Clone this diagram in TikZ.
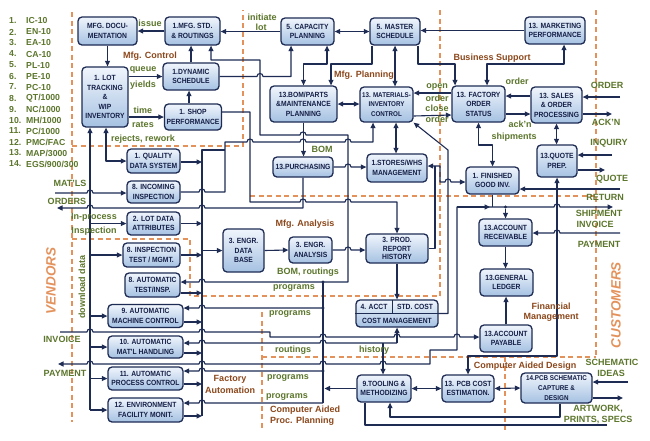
\documentclass[tikz,border=0pt]{standalone}
\usepackage{fontspec}
\setmainfont{Liberation Sans}
\newfontfamily\bxfont[FakeStretch=0.9]{Liberation Sans}
\usetikzlibrary{arrows.meta}
\definecolor{lnc}{RGB}{30,44,84}
\definecolor{boxtop}{RGB}{240,245,252}
\definecolor{boxbot}{RGB}{165,193,226}
\definecolor{boxtxt}{RGB}{20,30,70}
\definecolor{grn}{RGB}{92,118,44}
\definecolor{brn}{RGB}{140,72,28}
\definecolor{orn}{RGB}{228,146,92}
\newcommand\hR[2]{-- ({#1-3},#2) .. controls ({#1-3},{#2-4}) and ({#1+3},{#2-4}) .. ({#1+3},#2)}
\newcommand\hL[2]{-- ({#1+3},#2) .. controls ({#1+3},{#2-4}) and ({#1-3},{#2-4}) .. ({#1-3},#2)}
\tikzset{
 bx/.style={draw=lnc, line width=1.3pt, rounded corners=4pt, top color=boxtop, bottom color=boxbot, inner sep=0pt, align=center, text=boxtxt, font=\bxfont\bfseries\fontsize{7.5}{9.5}\selectfont},
 sz/.style 2 args={minimum width=#1pt, minimum height=#2pt},
 conn/.style={draw=lnc, line width=1.1pt, line join=round},
 arr/.style={conn, -{Triangle[length=5.5pt,width=5pt]}},
 arrb/.style={conn, {Triangle[length=5.5pt,width=5pt]}-{Triangle[length=5.5pt,width=5pt]}},
 glab/.style={text=grn, inner sep=0pt, font=\bfseries\fontsize{9}{10}\selectfont},
 blab/.style={text=brn, inner sep=0pt, font=\bfseries\fontsize{9}{10}\selectfont},
 lst/.style={text=grn, inner sep=0pt, anchor=west, font=\bfseries\fontsize{8.7}{10}\selectfont},
 dsh/.style={draw=orn, line width=1.3pt, dash pattern=on 5pt off 3.5pt},
 jd/.style={fill=lnc, circle, inner sep=0pt, minimum size=3.2pt},
 bigl/.style={text=orn, inner sep=0pt, rotate=90, font=\bfseries\itshape\fontsize{13.5}{14}\selectfont},
}
\begin{document}
\begin{tikzpicture}[x=1pt,y=-1pt]
\fill[white] (0,0) rectangle (650,440);
\useasboundingbox (0,0) rectangle (650,440);
% region borders
\draw[dsh] (72,12) -- (72,422);
\draw[dsh] (72,146) -- (243,146) -- (243,10);
\draw[dsh] (440,10) -- (440,296);
\draw[dsh] (596,10) -- (596,357);
\draw[dsh] (250,196) -- (596,196);
\draw[dsh] (72,239) -- (190,239) -- (190,296) -- (440,296);
\draw[dsh] (262,357) -- (596,357);
\draw[dsh] (262,312) -- (262,430);
\draw[dsh] (505,357) -- (505,430);
% list
\foreach \t [count=\i] in {IC-10,EN-10,EA-10,CA-10,PL-10,PE-10,PC-10,QT/1000,NC/1000,MH/1000,PC/1000,PMC/FAC,MAP/3000,EGS/900/300} {
  \node[lst] (ln\i) at (9,{10+11*\i}) {\i.};
  \node[lst] (lt\i) at (26,{10+11*\i}) {\t};
}
\node[bigl] (vend) at (51,281) {VENDORS};
\node[bigl] (cust) at (616,305) {CUSTOMERS};
% boxes
\node[bx, sz={59}{28}] (mfgdoc) at (107.5,31) {MFG. DOCU-\\MENTATION};
\node[bx, sz={55}{28}] (mfgstd) at (192.5,31) {1.MFG. STD.\\\& ROUTINGS};
\node[bx, sz={53}{27}] (cap) at (307.5,31.5) {5. CAPACITY\\PLANNING};
\node[bx, sz={50}{27}] (master) at (395,31.5) {5. MASTER\\SCHEDULE};
\node[bx, sz={60}{27}] (mkt) at (555,30.5) {13. MARKETING\\PERFORMANCE};
\node[bx, sz={46}{60}] (lot) at (105,97) {1. LOT\\TRACKING\\\&\\WIP\\INVENTORY};
\node[bx, sz={56}{27}] (dyn) at (191,76.5) {1.DYNAMIC\\SCHEDULE};
\node[bx, sz={57}{26}] (shop) at (193,117) {1. SHOP\\PERFORMANCE};
\node[bx, sz={67}{36}] (bom) at (303.5,104) {13.BOM/PARTS\\\&MAINTENANCE\\PLANNING};
\node[bx, sz={53}{35}, font=\bxfont\bfseries\fontsize{6.9}{9.5}\selectfont] (mat) at (386.5,104.5) {13. MATERIALS-\\INVENTORY\\CONTROL};
\node[bx, sz={53}{36}] (fos) at (478.5,104) {13. FACTORY\\ORDER\\STATUS};
\node[bx, sz={51}{36}] (sales) at (556.5,105) {13. SALES\\\& ORDER\\PROCESSING};
\node[bx, sz={40}{32}] (quote) at (557,161) {13.QUOTE\\PREP.};
\node[bx, sz={53}{24}] (qds) at (153.5,161) {1. QUALITY\\DATA SYSTEM};
\node[bx, sz={53}{22}] (inc) at (153.5,192) {8. INCOMING\\INSPECTION};
\node[bx, sz={53}{23}] (ldata) at (153.5,223.5) {2. LOT DATA\\ATTRIBUTES};
\node[bx, sz={57}{24}] (itest) at (151.5,255) {8. INSPECTION\\TEST / MGMT.};
\node[bx, sz={55}{24}] (atest) at (152.5,285) {8. AUTOMATIC\\TEST/INSP.};
\node[bx, sz={75}{23}] (mach) at (145.5,316) {9. AUTOMATIC\\MACHINE CONTROL};
\node[bx, sz={75}{22}] (matl) at (145.5,347) {10. AUTOMATIC\\MAT'L HANDLING};
\node[bx, sz={75}{23}] (proc) at (145.5,378.5) {11. AUTOMATIC\\PROCESS CONTROL};
\node[bx, sz={75}{24}] (env) at (145.5,410) {12. ENVIRONMENT\\FACILITY MONIT.};
\node[bx, sz={60}{20}] (purch) at (303,167) {13.PURCHASING};
\node[bx, sz={60}{28}] (stores) at (397,168) {1.STORES/WHS\\MANAGEMENT};
\node[bx, sz={53}{27}] (fg) at (492.5,180.5) {1. FINISHED\\GOOD INV.};
\node[bx, sz={41}{43}] (edb) at (243.5,250.5) {3. ENGR.\\DATA\\BASE};
\node[bx, sz={43}{26}] (ean) at (310.5,250) {3. ENGR.\\ANALYSIS};
\node[bx, sz={62}{29}, font=\bxfont\bfseries\fontsize{7.5}{8.5}\selectfont] (prod) at (397,248.5) {3. PROD.\\REPORT\\HISTORY};
\node[bx, sz={82}{27}] (acct) at (397,313.5) {};
\node[bx, sz={53}{27}] (ar) at (505.5,232.5) {13.ACCOUNT\\RECEIVABLE};
\node[bx, sz={53}{27}] (gl) at (506.5,282.5) {13.GENERAL\\LEDGER};
\node[bx, sz={52}{27}] (ap) at (506,338.5) {13.ACCOUNT\\PAYABLE};
\node[bx, sz={54}{27}] (tool) at (384,388.5) {9.TOOLING \&\\METHODIZING};
\node[bx, sz={52}{27}] (pcbc) at (468,388.5) {13. PCB COST\\ESTIMATION.};
\node[bx, sz={71}{30}, font=\bxfont\bfseries\fontsize{7}{9.8}\selectfont] (pcbs) at (556.5,388) {14.PCB SCHEMATIC\\CAPTURE \&\\DESIGN};
% 4. ACCT inner parts
\draw[conn, line width=.9pt] (acct.west |- 0,313.5) -- (acct.east |- 0,313.5);
\draw[conn, line width=.9pt] (392,300) -- (392,313.5);
\node[text=boxtxt, inner sep=0pt, font=\bxfont\bfseries\fontsize{7.5}{9}\selectfont] (acctA) at (374,307) {4. ACCT};
\node[text=boxtxt, inner sep=0pt, font=\bxfont\bfseries\fontsize{7.5}{9}\selectfont] (acctB) at (415,307) {STD. COST};
\node[text=boxtxt, inner sep=0pt, font=\bxfont\bfseries\fontsize{7.5}{9}\selectfont] (acctC) at (397,320.5) {COST MANAGEMENT};
% connectors: top
\draw[arr] (mfgstd.west) -- (mfgdoc.east);
\draw[arr] (mfgdoc.south) -- (mfgdoc.south |- lot.north);
\draw[arr] (cap.west) -- (cap.west -| mfgstd.east);
\draw[arrb] (cap.east) -- (master.west);
\draw[arr] (mkt.west) -- (mkt.west -| master.east);
\draw[arr] (lot.east |- dyn.west) -- (dyn.west);
\draw[arr] (lot.east |- shop.west) -- (shop.west);
\draw[arr] ([xshift=-4pt]shop.north) -- ([xshift=-4pt]shop.north |- dyn.south);
\draw[arr] (dyn.north) -- (dyn.north |- mfgstd.south);
\draw[arr] (323,282) -- (348,282) -- (348,135) \hL{303}{135} -- (260,135) -- (260,60) -- (211,60) -- ([xshift=18.5pt]mfgstd.south);
\draw[arr] (dyn.east) \hR{260}{76.5} -- (291,76.5) -- ([xshift=-16.5pt]cap.south);
\draw[arrb] ([xshift=19.5pt]cap.south) -- (327,64) -- (303.5,64) -- (bom.north);
\draw[arr] ([xshift=-23pt]master.south) -- (372,64) -- (331,64) -- ([xshift=27.5pt]bom.north);
\draw[arrb] (bom.east) -- (bom.east -| mat.west);
\draw[arrb] (master.south) -- (master.south |- mat.north);
\draw[arr] ([xshift=23pt]master.south) -- (418,64) -- (455,64) -- ([xshift=-23.5pt]fos.north);
\draw[arrb] ([xshift=9pt]mkt.south) -- (564,64) -- (487,64) -- ([xshift=8.5pt]fos.north);
\draw[arr] ([yshift=9pt]sales.west) -- ([yshift=8pt]fos.east);
\draw[arr] ([yshift=-10pt]fos.east) -- ([yshift=-9pt]sales.west);
\draw[arr] ([yshift=11pt]fos.west) -- ([yshift=11.5pt]mat.east);
\draw[arr] ([yshift=-11.5pt]mat.east) -- ([yshift=-11pt]fos.west);
\draw[arrb] (sales.south) -- (sales.south |- quote.north);
\draw[arr] (620,97) -- ([yshift=8pt]sales.east);
\draw[arr] ([yshift=-9pt]sales.east) -- (612,114);
\draw[arr] (612,155) -- ([yshift=6pt]quote.east);
\draw[arr] ([yshift=-9pt]quote.east) -- (605,170);
\draw[arr] (620,189) -- ([yshift=-8.5pt]fg.east);
\draw[arr] (620,233) \hL{557}{233} -- (ar.east |- 0,233);
\draw[arrb] (58,364) \hR{90}{364} \hR{202}{364} \hR{323}{364} \hR{383}{364} -- (430,364) -- (430,350) -- (457,350) -- (457,207) \hR{557}{207} -- (613,207);
\draw[arr] (457,207) -- (490,207);
\draw[conn] (fg.south) -- (fg.south |- 0,207);
\node[jd] (j1) at (505.5,207) {};
\draw[arr] (j1) -- (ar.north);
\draw[arrb] (fg.north) -- (492.5,145) -- (478.5,145) -- (fos.south);
\draw[arrb] ([yshift=2pt]stores.east) -- (440,166) -- (440,182) \hR{448}{182} -- ([yshift=-1.5pt]fg.west);
\draw[conn] (prod.east) -- (435,248.5) -- (435,166);
\draw[arrb] ([xshift=-1pt]stores.north) -- ([xshift=-1pt]stores.north |- mat.south);
\draw[arr] (purch.east) \hR{348}{167} -- (stores.west |- purch.east);
\draw[arr] (bom.south) -- (bom.south |- purch.north);
\draw[arr] (purch.south) -- (303,208) \hL{202}{208} \hL{90}{208} -- (57,208);
\draw[arr] (inc.east) \hR{202}{192} -- (225,192) -- (225,142) \hR{250}{142} \hR{303}{142} \hR{348}{142} -- (373,142) -- ([xshift=-13.5pt]mat.south);
\draw[arr] (55,193) \hR{90}{193} -- (inc.west |- 0,193);
% left buses
\draw[arr] (90,410) -- ([xshift=-15pt]lot.south);
\draw[arr] (90,410) -- (env.west);
\draw[arr] (90,223.5) -- (ldata.west);
\draw[arr] (90,255) -- (itest.west);
\draw[arr] (90,316) -- (mach.west);
\draw[arr] (90,347) -- (matl.west);
\draw[arr] (90,378.5) -- (proc.west);
\draw[arrb] ([xshift=1pt]lot.south) -- (106,161) -- (qds.west);
\draw[conn] (202,416) -- (202,150) -- (225,150);
\draw[arr] (qds.east |- 0,162) -- (202,162);
\draw[arr] (ldata.east) -- (202,223.5);
\draw[arr] (itest.east) -- (202,255);
\draw[arr] (atest.east |- 0,293) -- (202,293);
\draw[arr] (mach.east |- 0,322) -- (202,322);
\draw[arr] (matl.east |- 0,353) -- (202,353);
\draw[arr] (proc.east |- 0,384) -- (202,384);
\draw[arr] (env.east |- 0,416) -- (202,416);
\draw[arr] (202,250.5) -- (edb.west);
\draw[arr] (edb.east) -- (ean.west);
\draw[arr] (ean.east) \hR{348}{250} -- (prod.west |- ean.east);
\draw[arr] ([yshift=5pt]shop.east) -- (250,112) -- (250,202) \hR{303}{202} \hR{348}{202} -- (397,202) -- (prod.north);
% programs
\draw[conn] (323,282) -- (323,403);
\draw[arr] (323,282) \hL{202}{282} -- (atest.east |- 0,282);
\draw[arr] (323,308) \hL{202}{308} -- (mach.east |- 0,308);
\draw[arr] (323,371) \hL{202}{371} -- (proc.east |- 0,371);
\draw[arr] (323,403) \hL{202}{403} -- (env.east |- 0,403);
\node[jd] (j2) at (323,282) {};
\node[jd] (j3) at (323,308) {};
\node[jd] (j4) at (323,371) {};
\draw[arr] (tool.west) -- (324.5,388.5);
\draw[arr] (prod.south) -- (acct.north);
\draw[arr] (397,343) -- (acct.south);
\draw[arr] (397,343) \hL{323}{343} \hL{202}{343} -- (matl.east |- 0,343);
\draw[arr] (383,343) -- ([xshift=-1pt]tool.north);
\draw[arr] (60,332) \hR{90}{332} \hR{202}{332} -- (270,332) -- (270,337) \hR{323}{337} \hR{397}{337} \hR{457}{337} -- (ap.west |- 0,337);
\draw[arr] (acct.east) -- (448,313.5) -- (448,150) -- (mat.south east);
\draw[arr] (ar.south) -- (ar.south |- gl.north);
\draw[arr] (ap.north) -- (ap.north |- gl.south);
\draw[arrb] (quote.south) -- (557,356) -- (468,356) -- (pcbc.north);
\draw[arrb] (tool.east) -- (pcbc.west);
\draw[arrb] (pcbc.east) -- (pcbs.west);
\draw[arr] (628,382) -- ([yshift=6pt]pcbs.east);
\draw[arr] ([yshift=-10pt]pcbs.east) -- (623,398);
\draw[arr] ([xshift=3.5pt]pcbs.south) -- (560,417) -- (390,417) -- ([xshift=6pt]tool.south);
\draw[conn] ([xshift=-19pt]tool.south) -- (365,425) -- (607,425);
% green labels
\node[glab] (l1) at (150,23) {issue};
\node[glab] (l2) at (262,17) {initiate};
\node[glab] (l3) at (261,27) {lot};
\node[glab] (l4) at (143,70) {queue};
\node[glab] (l5) at (143,85) {yields};
\node[glab] (l6) at (143,110) {time};
\node[glab] (l7) at (143,125) {rates};
\node[glab] (l8) at (143,139) {rejects, rework};
\node[glab] (l9) at (322,149) {BOM};
\node[glab] (l10) at (437,87) {open};
\node[glab] (l11) at (437,98) {order};
\node[glab] (l12) at (437,108) {close};
\node[glab] (l13) at (437,119) {order};
\node[glab] (l14) at (517,81) {order};
\node[glab] (l15) at (520,124) {ack'n};
\node[glab] (l16) at (514,137) {shipments};
\node[glab] (l17) at (70,183) {MAT'LS};
\node[glab] (l18) at (67,201) {ORDERS};
\node[glab] (l19) at (94,217) {In-process};
\node[glab] (l20) at (94,231) {Inspection};
\node[glab, rotate=90] (l21) at (82,287) {download data};
\node[glab] (l22) at (308,272) {BOM, routings};
\node[glab] (l23) at (294,288) {programs};
\node[glab] (l24) at (290,314) {programs};
\node[glab] (l25) at (293,350) {routings};
\node[glab] (l26) at (374,350) {history};
\node[glab] (l27) at (288,378) {programs};
\node[glab] (l28) at (287,397) {programs};
\node[glab] (l29) at (62,339) {INVOICE};
\node[glab] (l30) at (65,373) {PAYMENT};
\node[glab] (r1) at (607,85) {ORDER};
\node[glab] (r2) at (606,122) {ACK'N};
\node[glab] (r3) at (609,143) {INQUIRY};
\node[glab] (r4) at (612,179) {QUOTE};
\node[glab] (r5) at (605,197) {RETURN};
\node[glab] (r6) at (599,213) {SHIPMENT};
\node[glab] (r7) at (595,224) {INVOICE};
\node[glab] (r8) at (599,244) {PAYMENT};
\node[glab] (r9) at (612,362) {SCHEMATIC};
\node[glab] (r10) at (611,373) {IDEAS};
\node[glab] (r11) at (598,409) {ARTWORK,};
\node[glab] (r12) at (598,420) {PRINTS, SPECS};
% section labels
\node[blab] (s1) at (150,56) {Mfg. Control};
\node[blab] (s2) at (364,75) {Mfg. Planning};
\node[blab] (s3) at (492,58) {Business Support};
\node[blab] (s4) at (305,224) {Mfg. Analysis};
\node[blab] (s5) at (551,306) {Financial};
\node[blab] (s6) at (551,317) {Management};
\node[blab] (s7) at (230,379) {Factory};
\node[blab] (s8) at (230,390) {Automation};
\node[blab, anchor=west] (s9) at (270,410) {Computer Aided};
\node[blab, anchor=west] (s10) at (270,421) {Proc. Planning};
\node[blab] (s11) at (525,366) {Computer Aided Design};
\end{tikzpicture}
\end{document}
